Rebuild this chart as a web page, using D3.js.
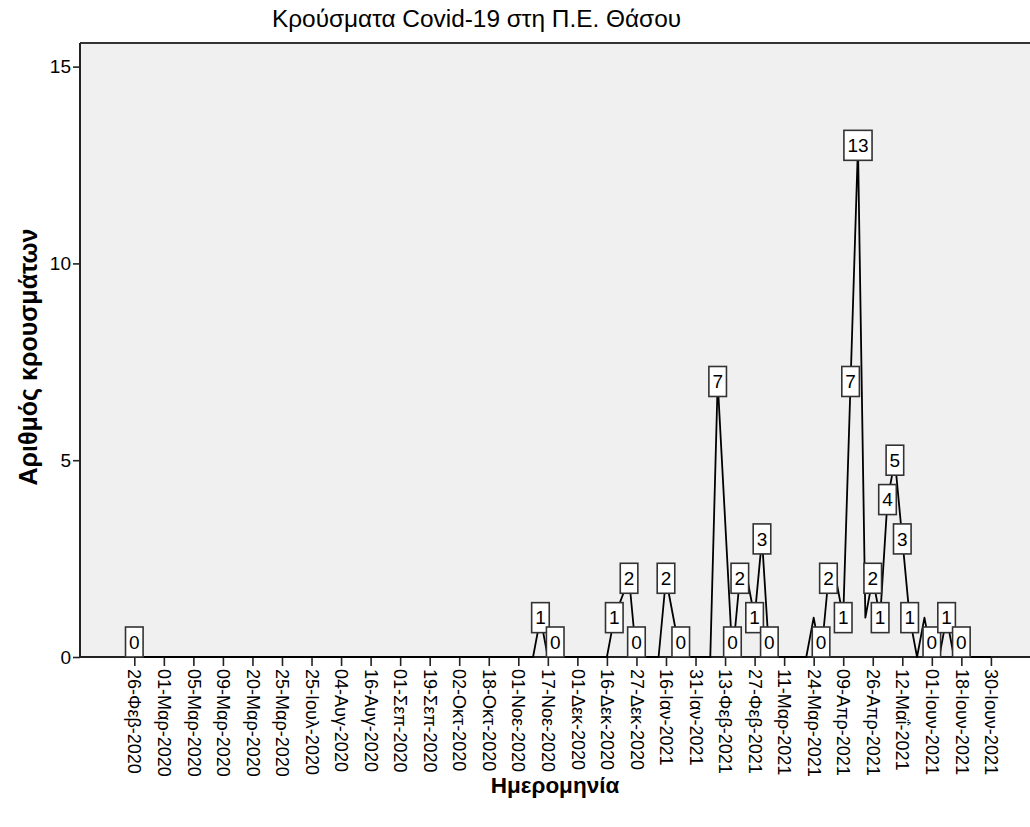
<!DOCTYPE html>
<html>
<head>
<meta charset="utf-8">
<script src="https://cdn.jsdelivr.net/npm/d3@7"></script>
<style>
  body { margin: 0; background: #fff; }
  svg text { font-family: Arial, "Liberation Sans", sans-serif; fill: #000; }
</style>
</head>
<body>
<div id="chart"></div>
<script>
// tick labels: every 4th date category on the x axis
const tickLabels = [
  '26-Φεβ-2020', '01-Μαρ-2020', '05-Μαρ-2020', '09-Μαρ-2020', '20-Μαρ-2020',
  '25-Μαρ-2020', '25-Ιουλ-2020', '04-Αυγ-2020', '16-Αυγ-2020', '01-Σεπ-2020',
  '19-Σεπ-2020', '02-Οκτ-2020', '18-Οκτ-2020', '01-Νοε-2020', '17-Νοε-2020',
  '01-Δεκ-2020', '16-Δεκ-2020', '27-Δεκ-2020', '16-Ιαν-2021', '31-Ιαν-2021',
  '13-Φεβ-2021', '27-Φεβ-2021', '11-Μαρ-2021', '24-Μαρ-2021', '09-Απρ-2021',
  '26-Απρ-2021', '12-Μαΐ-2021', '01-Ιουν-2021', '18-Ιουν-2021', '30-Ιουν-2021'
];
const catsPerTick = 4;

// cases per date category, one row per labelled tick (null = missing, line joins across it)
const cases = [
  0, 0, 0, 0,        // 26-Φεβ-2020
  0, 0, 0, 0,        // 01-Μαρ-2020
  0, 0, 0, 0,        // 05-Μαρ-2020
  0, 0, 0, 0,        // 09-Μαρ-2020
  0, 0, 0, 0,        // 20-Μαρ-2020
  0, 0, 0, 0,        // 25-Μαρ-2020
  0, 0, 0, 0,        // 25-Ιουλ-2020
  0, 0, 0, 0,        // 04-Αυγ-2020
  0, 0, 0, 0,        // 16-Αυγ-2020
  0, 0, 0, 0,        // 01-Σεπ-2020
  0, 0, 0, 0,        // 19-Σεπ-2020
  0, 0, 0, 0,        // 02-Οκτ-2020
  0, 0, 0, 0,        // 18-Οκτ-2020
  0, 0, 0, 1,        // 01-Νοε-2020
  0, 0, 0, 0,        // 17-Νοε-2020
  0, 0, 0, 0,        // 01-Δεκ-2020
  0, 1, null, 2,     // 16-Δεκ-2020
  0, 0, 0, 0,        // 27-Δεκ-2020
  2, null, 0, 0,     // 16-Ιαν-2021
  0, 0, 0, 7,        // 31-Ιαν-2021
  null, 0, 2, 2,     // 13-Φεβ-2021
  1, 3, 0, 0,        // 27-Φεβ-2021
  0, 0, 0, 0,        // 11-Μαρ-2021
  1, 0, 2, 2,        // 24-Μαρ-2021
  1, 7, 13, 1,       // 09-Απρ-2021
  2, 1, 4, 5,        // 26-Απρ-2021
  3, 1, 0, 1,        // 12-Μαΐ-2021
  0, 0, 1, 0,        // 01-Ιουν-2021
  0, 0, 0, 0,        // 18-Ιουν-2021
  0                  // 30-Ιουν-2021
];

// categories whose value label is displayed
const labelledPoints = [0, 55, 57, 65, 67, 68, 72, 74, 79, 81, 82, 84, 85, 86,
  93, 94, 96, 97, 98, 100, 101, 102, 103, 104, 105, 108, 110, 112];

const yTicks = [0, 5, 10, 15];

const W = 1030, H = 827;
const plot = {left: 80, top: 43, right: 1032, bottom: 657};

const svg = d3.select('#chart').append('svg')
  .attr('width', W).attr('height', H);

const nCats = cases.length;
const x = d3.scaleLinear().domain([0, nCats - 1]).range([134.3, 990.9]);
const y = d3.scaleLinear().domain([0, 15.6]).range([plot.bottom, plot.top]);

// plot background
svg.append('rect')
  .attr('x', plot.left).attr('y', plot.top)
  .attr('width', plot.right - plot.left).attr('height', plot.bottom - plot.top)
  .attr('fill', '#f0f0f0');

// frame: top and left
svg.append('line')
  .attr('x1', plot.left).attr('x2', plot.right)
  .attr('y1', plot.top).attr('y2', plot.top)
  .attr('stroke', '#333').attr('stroke-width', 2);
svg.append('line')
  .attr('x1', plot.left).attr('x2', plot.left)
  .attr('y1', plot.top).attr('y2', plot.bottom)
  .attr('stroke', '#222').attr('stroke-width', 2);

// y axis
const yAxis = svg.append('g')
  .attr('transform', 'translate(' + plot.left + ',0)')
  .call(d3.axisLeft(y).tickValues(yTicks).tickSize(7).tickPadding(2));
yAxis.select('.domain').remove();
yAxis.selectAll('line').attr('stroke', '#222').attr('stroke-width', 1.6);
yAxis.selectAll('text').attr('font-size', 19).attr('font-family', null);

// x axis
const xAxis = svg.append('g')
  .attr('transform', 'translate(0,' + plot.bottom + ')')
  .call(d3.axisBottom(x)
    .tickValues(d3.range(0, nCats, catsPerTick))
    .tickFormat(i => tickLabels[i / catsPerTick])
    .tickSize(9));
xAxis.select('.domain').remove();
xAxis.selectAll('line').attr('stroke', '#222').attr('stroke-width', 1.6);
xAxis.selectAll('text')
  .attr('font-size', 18).attr('font-family', null)
  .attr('y', 0).attr('x', 12).attr('dy', '0.35em')
  .attr('transform', 'rotate(90)')
  .style('text-anchor', 'start');

svg.append('line')
  .attr('x1', plot.left).attr('x2', plot.right)
  .attr('y1', plot.bottom).attr('y2', plot.bottom)
  .attr('stroke', '#222').attr('stroke-width', 2);

// data line
const pts = cases.map((v, i) => ({i: i, v: v})).filter(d => d.v !== null);
svg.append('path')
  .datum(pts)
  .attr('fill', 'none')
  .attr('stroke', '#000')
  .attr('stroke-width', 1.8)
  .attr('stroke-linejoin', 'round')
  .attr('d', d3.line().x(d => x(d.i)).y(d => y(d.v)));

// value labels
const boxH = 30;
const labels = svg.append('g').selectAll('g')
  .data(labelledPoints.map(i => ({i: i, v: cases[i]})))
  .enter().append('g');
labels.each(function(d){
  const g = d3.select(this);
  const t = g.append('text')
    .attr('font-size', 19)
    .attr('text-anchor', 'middle')
    .text(d.v);
  const w = t.node().getComputedTextLength() + 7;
  let top = y(d.v) - boxH / 2;
  top = Math.max(plot.top, Math.min(plot.bottom - boxH, top));
  g.insert('rect', 'text')
    .attr('x', x(d.i) - w / 2).attr('y', top)
    .attr('width', w).attr('height', boxH)
    .attr('fill', '#fff').attr('stroke', '#333').attr('stroke-width', 1.6);
  t.attr('x', x(d.i)).attr('y', top + boxH / 2).attr('dy', '0.36em');
});

// titles
svg.append('text')
  .attr('x', 476.5).attr('y', 27)
  .attr('text-anchor', 'middle')
  .attr('font-size', 24.4)
  .text('Κρούσματα Covid-19 στη Π.Ε. Θάσου');

svg.append('text')
  .attr('transform', 'translate(37,357) rotate(-90)')
  .attr('text-anchor', 'middle')
  .attr('font-size', 25).attr('font-weight', 'bold')
  .text('Αριθμός κρουσμάτων');

svg.append('text')
  .attr('x', 555).attr('y', 793)
  .attr('text-anchor', 'middle')
  .attr('font-size', 22.5).attr('font-weight', 'bold')
  .text('Ημερομηνία');
</script>
</body>
</html>
